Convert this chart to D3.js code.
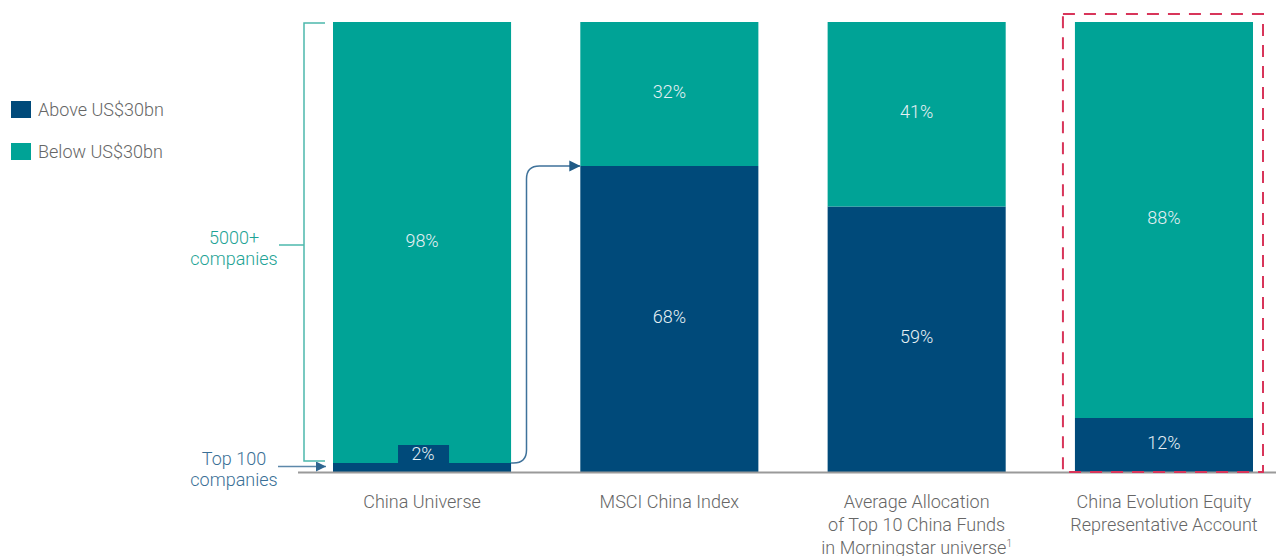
<!DOCTYPE html>
<html><head><meta charset="utf-8">
<script src="https://cdn.jsdelivr.net/npm/d3@7"></script>
<style>
html,body{margin:0;padding:0;background:#fff;}
svg{display:block;font-family:Roboto,"Liberation Sans",Arial,sans-serif;font-weight:300;}
</style></head>
<body>
<svg id="chart" width="1276" height="556"></svg>
<script>
const categories = ["China Universe", "MSCI China Index", "Average Allocation|of Top 10 China Funds|in Morningstar universe", "China Evolution Equity|Representative Account"];
const aboveValues = [2, 68, 59, 12];
const belowValues = [98, 32, 41, 88];
const seriesNames = ["Above US$30bn", "Below US$30bn"];
const colors = ["#004a7a", "#00a396"];

const svg = d3.select("#chart");
const x = d3.scaleBand().domain(categories).range([333, 1253]).paddingInner(0.28).paddingOuter(0);
const y = d3.scaleLinear().domain([0, 100]).range([472, 22]);

const rows = categories.map((c, i) => ({cat: c, above: aboveValues[i], below: belowValues[i]}));
const stack = d3.stack().keys(["above", "below"])(rows);

// bars
stack.forEach((s, si) => {
  svg.append("g").selectAll("rect").data(s).join("rect")
    .attr("x", d => x(d.data.cat))
    .attr("y", d => y(d[1]))
    .attr("width", x.bandwidth())
    .attr("height", d => y(d[0]) - y(d[1]))
    .attr("fill", colors[si]);
});

// axis baseline
svg.append("line").attr("x1", 298).attr("x2", 1276).attr("y1", y(0) + 0.5).attr("y2", y(0) + 0.5)
  .attr("stroke", "#9a9a9a").attr("stroke-width", 2);

// value labels
const FS = 18;
stack.forEach((s, si) => {
  s.forEach((d, i) => {
    const cx = x(d.data.cat) + x.bandwidth() / 2;
    let cy = (y(d[0]) + y(d[1])) / 2;
    const val = si === 0 ? aboveValues[i] : belowValues[i];
    if (val < 5) {
      const tabTop = y(d[1]) - 18;
      svg.append("rect").attr("x", cx - 24).attr("y", tabTop).attr("width", 51).attr("height", 18).attr("fill", colors[0]);
      svg.append("text").attr("x", cx + 1).attr("y", tabTop + 15).attr("text-anchor", "middle")
        .attr("font-size", FS).attr("fill", "#e6f0f4").text(val + "%");
    } else {
      svg.append("text").attr("x", cx).attr("y", cy + 4).attr("text-anchor", "middle")
        .attr("font-size", FS).attr("fill", "#e6f0f4").text(val + "%");
    }
  });
});

// category labels
categories.forEach((c, i) => {
  const lines = c.split("|");
  const cx = x(c) + x.bandwidth() / 2;
  const t = svg.append("text").attr("x", cx).attr("y", 508)
    .attr("text-anchor", "middle").attr("font-size", FS).attr("fill", "#666");
  lines.forEach((ln, li) => {
    const ts = t.append("tspan").attr("x", cx).attr("dy", li === 0 ? 0 : 23).text(ln);
    if (i === 2 && li === 2) {
      ts.append("tspan").attr("font-size", 10).attr("dy", -7).text("1");
    }
  });
});

// legend
seriesNames.forEach((n, i) => {
  const ly = 101 + i * 42;
  svg.append("rect").attr("x", 11).attr("y", ly).attr("width", 20).attr("height", 17).attr("fill", colors[i]);
  svg.append("text").attr("x", 38).attr("y", ly + 15).attr("font-size", FS).attr("fill", "#666").text(n);
});

// bracket for "5000+ companies"
const bx = 304, bTop = y(100) + 1, bBot = y(aboveValues[0]) - 2;
svg.append("path")
  .attr("d", `M${x(categories[0]) - 8},${bTop} H${bx} V${bBot} H${x(categories[0]) - 8}`)
  .attr("fill", "none").attr("stroke", "#4cb8ac").attr("stroke-width", 1.5);
svg.append("line").attr("x1", 279).attr("x2", bx).attr("y1", 245).attr("y2", 245)
  .attr("stroke", "#4cb8ac").attr("stroke-width", 1.5);
const t1 = svg.append("text").attr("x", 234).attr("y", 244).attr("text-anchor", "middle")
  .attr("font-size", FS).attr("fill", "#1ea395");
t1.append("tspan").attr("x", 234).text("5000+");
t1.append("tspan").attr("x", 234).attr("dy", 21).text("companies");

// arrows
svg.append("defs").html(`
<marker id="ah" viewBox="0 0 10 10" refX="10" refY="5" markerWidth="10" markerHeight="10" markerUnits="userSpaceOnUse" orient="auto">
<path d="M0,0 L10,5 L0,10 z" fill="#2f6690"/></marker>
<marker id="ah2" viewBox="0 0 10 10" refX="10" refY="5" markerWidth="11" markerHeight="12" markerUnits="userSpaceOnUse" orient="auto">
<path d="M0,0 L10,5 L0,10 z" fill="#1f5a86"/></marker>`);
svg.append("line").attr("x1", 278).attr("x2", 326).attr("y1", 466.5).attr("y2", 466.5)
  .attr("stroke", "#5d88aa").attr("stroke-width", 1.5).attr("marker-end", "url(#ah)");
const t2 = svg.append("text").attr("x", 234).attr("y", 465).attr("text-anchor", "middle")
  .attr("font-size", FS).attr("fill", "#3a6f96");
t2.append("tspan").attr("x", 234).text("Top 100");
t2.append("tspan").attr("x", 234).attr("dy", 21).text("companies");

// curved connector arrow
const sx = x(categories[0]) + x.bandwidth(), sy = y(aboveValues[0]);
const vx = 526.5, ty = y(aboveValues[1]), tx = x(categories[1]);
const r = 13;
svg.append("path")
  .attr("d", `M${sx},${sy} H${vx - r} Q${vx},${sy} ${vx},${sy - r} V${ty + r} Q${vx},${ty} ${vx + r},${ty} H${tx}`)
  .attr("fill", "none").attr("stroke", "#3f729a").attr("stroke-width", 1.5).attr("marker-end", "url(#ah2)");

// highlight dashed rect for last category (drawn on top)
const last = categories[3];
svg.append("rect")
  .attr("x", x(last) - 12).attr("y", 14)
  .attr("width", x.bandwidth() + 22).attr("height", y(0) - 14)
  .attr("fill", "none").attr("stroke", "#d8355a").attr("stroke-width", 2)
  .attr("stroke-dasharray", "12,9");
</script>
</body></html>
